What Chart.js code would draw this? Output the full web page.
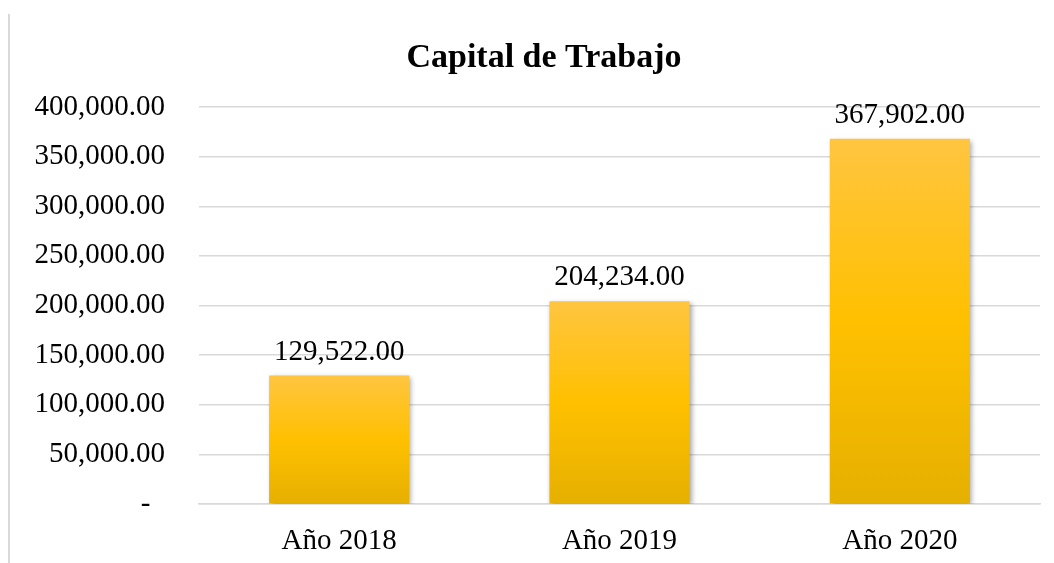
<!DOCTYPE html>
<html lang="es">
<head>
    <meta charset="UTF-8">
    <title>Capital de Trabajo</title>
    <style>
        body { margin: 0; background: #ffffff; }
        .wrap { width: 1054px; height: 563px; position: relative; }
    </style>
    <script src="https://cdn.jsdelivr.net/npm/chart.js"></script>
</head>
<body>
    <div class="wrap"><canvas id="barChart" width="1054" height="563"></canvas></div>
    <script>
        const categories = ['Año 2018', 'Año 2019', 'Año 2020'];
        const capitalValues = [129522, 204234, 367902];
        const yTicks = [0, 50000, 100000, 150000, 200000, 250000, 300000, 350000, 400000];
        const chartTitle = 'Capital de Trabajo';

        const serif = "'Liberation Serif', 'Times New Roman', serif";
        const fmt = v => v.toLocaleString('en-US', { minimumFractionDigits: 2, maximumFractionDigits: 2 });

        // gray frame line on the left + title (Excel centres it a bit right of the canvas centre)
        const frameAndTitle = {
            id: 'frameAndTitle',
            beforeDraw(chart) {
                const c = chart.ctx;
                c.save();
                c.strokeStyle = '#d9d9d9';
                c.lineWidth = 2;
                c.beginPath();
                c.moveTo(9, 14);
                c.lineTo(9, chart.height);
                c.stroke();
                c.font = 'bold 34px ' + serif;
                c.fillStyle = '#000000';
                c.textAlign = 'center';
                c.textBaseline = 'middle';
                c.fillText(chartTitle, 544, 58);
                c.restore();
            }
        };

        // soft shadow behind bars
        const barShadow = {
            id: 'barShadow',
            beforeDatasetDraw(chart) {
                const c = chart.ctx;
                c.save();
                c.shadowColor = 'rgba(0,0,0,0.35)';
                c.shadowBlur = 5;
                c.shadowOffsetX = 2;
                c.shadowOffsetY = 2;
            },
            afterDatasetDraw(chart) {
                chart.ctx.restore();
            }
        };

        // value labels above bars
        const valueLabels = {
            id: 'valueLabels',
            afterDatasetsDraw(chart) {
                const c = chart.ctx;
                const meta = chart.getDatasetMeta(0);
                c.save();
                c.font = '29px ' + serif;
                c.fillStyle = '#000000';
                c.textAlign = 'center';
                c.textBaseline = 'bottom';
                meta.data.forEach((bar, i) => {
                    c.fillText(fmt(capitalValues[i]), bar.x, bar.y - 9);
                });
                c.restore();
            }
        };

        function barGradient(context) {
            const chart = context.chart;
            const y = chart.scales.y;
            if (!y || !chart.chartArea) return '#FFC000';
            const top = y.getPixelForValue(capitalValues[context.dataIndex]);
            const bottom = y.getPixelForValue(0);
            const g = chart.ctx.createLinearGradient(0, top, 0, bottom);
            g.addColorStop(0, '#FFC540');
            g.addColorStop(0.5, '#FFC000');
            g.addColorStop(1, '#E6B000');
            return g;
        }

        new Chart(document.getElementById('barChart').getContext('2d'), {
            type: 'bar',
            data: {
                labels: categories,
                datasets: [{
                    label: chartTitle,
                    data: capitalValues,
                    backgroundColor: barGradient,
                    borderWidth: 0,
                    categoryPercentage: 1,
                    barPercentage: 0.5
                }]
            },
            options: {
                responsive: false,
                animation: false,
                layout: { padding: { left: 0, right: 14, top: 107, bottom: 0 } },
                plugins: {
                    legend: { display: false },
                    tooltip: { enabled: false },
                    title: { display: false }
                },
                scales: {
                    x: {
                        grid: { display: false, drawTicks: false },
                        border: { display: true, color: '#d9d9d9', width: 1.5 },
                        ticks: {
                            color: '#000000',
                            font: { family: serif, size: 29 },
                            padding: 20
                        },
                        afterFit(scale) { scale.height = 59; }
                    },
                    y: {
                        min: 0,
                        max: 400000,
                        afterBuildTicks(scale) {
                            scale.ticks = yTicks.map(v => ({ value: v }));
                        },
                        grid: { color: '#d9d9d9', lineWidth: 1.5, drawTicks: false },
                        border: { display: false },
                        ticks: {
                            color: '#000000',
                            font: { family: serif, size: 29 },
                            padding: 34,
                            callback: v => v === 0 ? '-  ' : fmt(v)
                        },
                        afterFit(scale) { scale.width = 199; }
                    }
                }
            },
            plugins: [frameAndTitle, barShadow, valueLabels]
        });
    </script>
</body>
</html>
